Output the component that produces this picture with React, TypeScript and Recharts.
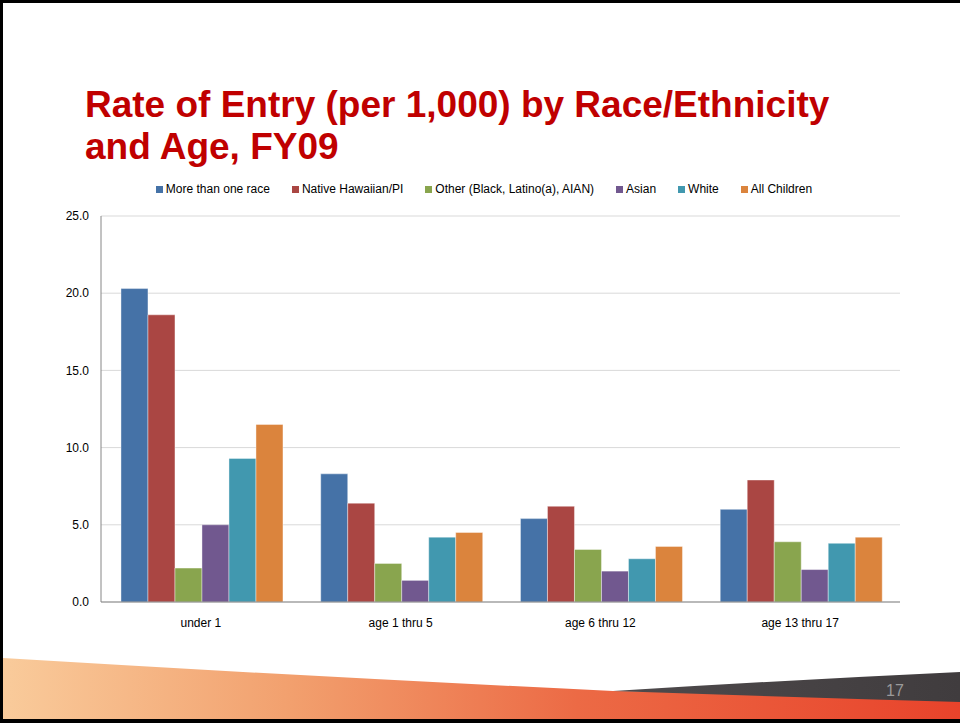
import React from "react";
import { BarChart, Bar, XAxis, YAxis, CartesianGrid, Legend } from "recharts";

const categories = ["under 1", "age 1 thru 5", "age 6 thru 12", "age 13 thru 17"];
const moreThanOne = [20.3, 8.3, 5.4, 6.0];
const nativeHawaiian = [18.6, 6.4, 6.2, 7.9];
const other = [2.2, 2.5, 3.4, 3.9];
const asian = [5.0, 1.4, 2.0, 2.1];
const white = [9.3, 4.2, 2.8, 3.8];
const allChildren = [11.5, 4.5, 3.6, 4.2];
const yTicks = [0, 5, 10, 15, 20, 25];

const seriesNames = [
  "More than one race",
  "Native Hawaiian/PI",
  "Other (Black, Latino(a), AIAN)",
  "Asian",
  "White",
  "All Children",
];
const seriesValues = [moreThanOne, nativeHawaiian, other, asian, white, allChildren];
const seriesColors = ["#4572A7", "#AA4643", "#89A54E", "#71588F", "#4198AF", "#DB843D"];

const data = categories.map((c, i) => {
  const row: Record<string, string | number> = { category: c };
  seriesNames.forEach((n, j) => {
    row[n] = seriesValues[j][i];
  });
  return row;
});

const FONT = "'Liberation Sans', Arial, sans-serif";

const renderLegend = () => (
  <div
    style={{
      display: "flex",
      justifyContent: "center",
      alignItems: "center",
      gap: 22,
      fontFamily: FONT,
      fontSize: 12,
      color: "#000",
    }}
  >
    {seriesNames.map((n, j) => (
      <div key={n} style={{ display: "flex", alignItems: "center" }}>
        <span
          style={{
            display: "inline-block",
            width: 7,
            height: 7,
            background: seriesColors[j],
            marginRight: 3,
          }}
        />
        <span>{n}</span>
      </div>
    ))}
  </div>
);

export default function App() {
  return (
    <div
      style={{
        position: "fixed",
        left: 0,
        top: 0,
        width: 960,
        height: 723,
        background: "#fff",
        overflow: "hidden",
      }}
    >
      <svg
        width={960}
        height={723}
        style={{ position: "absolute", left: 0, top: 0 }}
      >
        <defs>
          <linearGradient id="orangeGrad" x1="0" y1="0" x2="1" y2="0">
            <stop offset="0" stopColor="#F9CB9B" />
            <stop offset="0.3" stopColor="#F2A06E" />
            <stop offset="0.6" stopColor="#EC6A45" />
            <stop offset="1" stopColor="#E8432B" />
          </linearGradient>
          <linearGradient id="darkGrad" x1="0" y1="0" x2="1" y2="0">
            <stop offset="0" stopColor="#4e4a4c" />
            <stop offset="1" stopColor="#403c3e" />
          </linearGradient>
        </defs>
        <path
          d="M 3 658 Q 300 676 613 691 L 960 695 L 960 720 L 3 720 Z"
          fill="url(#orangeGrad)"
        />
        <path
          d="M 613 691 Q 790 680 960 672 L 960 702 Q 790 697 613 691 Z"
          fill="url(#darkGrad)"
        />
        <text
          x={895}
          y={696}
          textAnchor="middle"
          fontFamily={FONT}
          fontSize={16}
          fill="#9a9a9a"
        >
          17
        </text>
        <rect x={0} y={0} width={960} height={3} fill="#000" />
        <rect x={0} y={0} width={3} height={723} fill="#000" />
        <rect x={0} y={719} width={960} height={4} fill="#000" />
        <text
          x={85}
          y={117}
          fontFamily={FONT}
          fontWeight="bold"
          fontSize={37}
          fill="#C00000"
        >
          Rate of Entry (per 1,000) by Race/Ethnicity
        </text>
        <text
          x={85}
          y={159}
          fontFamily={FONT}
          fontWeight="bold"
          fontSize={37}
          fill="#C00000"
        >
          and Age, FY09
        </text>
      </svg>
      <div style={{ position: "absolute", left: 0, top: 0 }}>
        <BarChart
          width={960}
          height={723}
          data={data}
          margin={{ top: 216, right: 60, left: 41, bottom: 91 }}
          barCategoryGap="10%"
          barGap={0}
        >
          <CartesianGrid vertical={false} stroke="#D9D9D9" />
          <XAxis
            dataKey="category"
            height={30}
            tickLine={false}
            tickSize={0}
            tickMargin={16}
            axisLine={{ stroke: "#868686" }}
            tick={{ fill: "#000", fontSize: 12, fontFamily: FONT }}
          />
          <YAxis
            width={60}
            domain={[0, 25]}
            ticks={yTicks}
            tickFormatter={(v: number) => v.toFixed(1)}
            tickLine={false}
            tickSize={0}
            tickMargin={12}
            axisLine={{ stroke: "#868686" }}
            tick={{ fill: "#000", fontSize: 12, fontFamily: FONT }}
          />
          <Legend
            layout="horizontal"
            verticalAlign="middle"
            align="center"
            content={renderLegend}
            wrapperStyle={{ top: 182, left: 0, width: 968 }}
          />
          {seriesNames.map((n, j) => (
            <Bar
              key={n}
              dataKey={n}
              fill={seriesColors[j]}
              stroke="#ffffff"
              strokeOpacity={0.5}
              strokeWidth={0.8}
              isAnimationActive={false}
            />
          ))}
        </BarChart>
      </div>
    </div>
  );
}
